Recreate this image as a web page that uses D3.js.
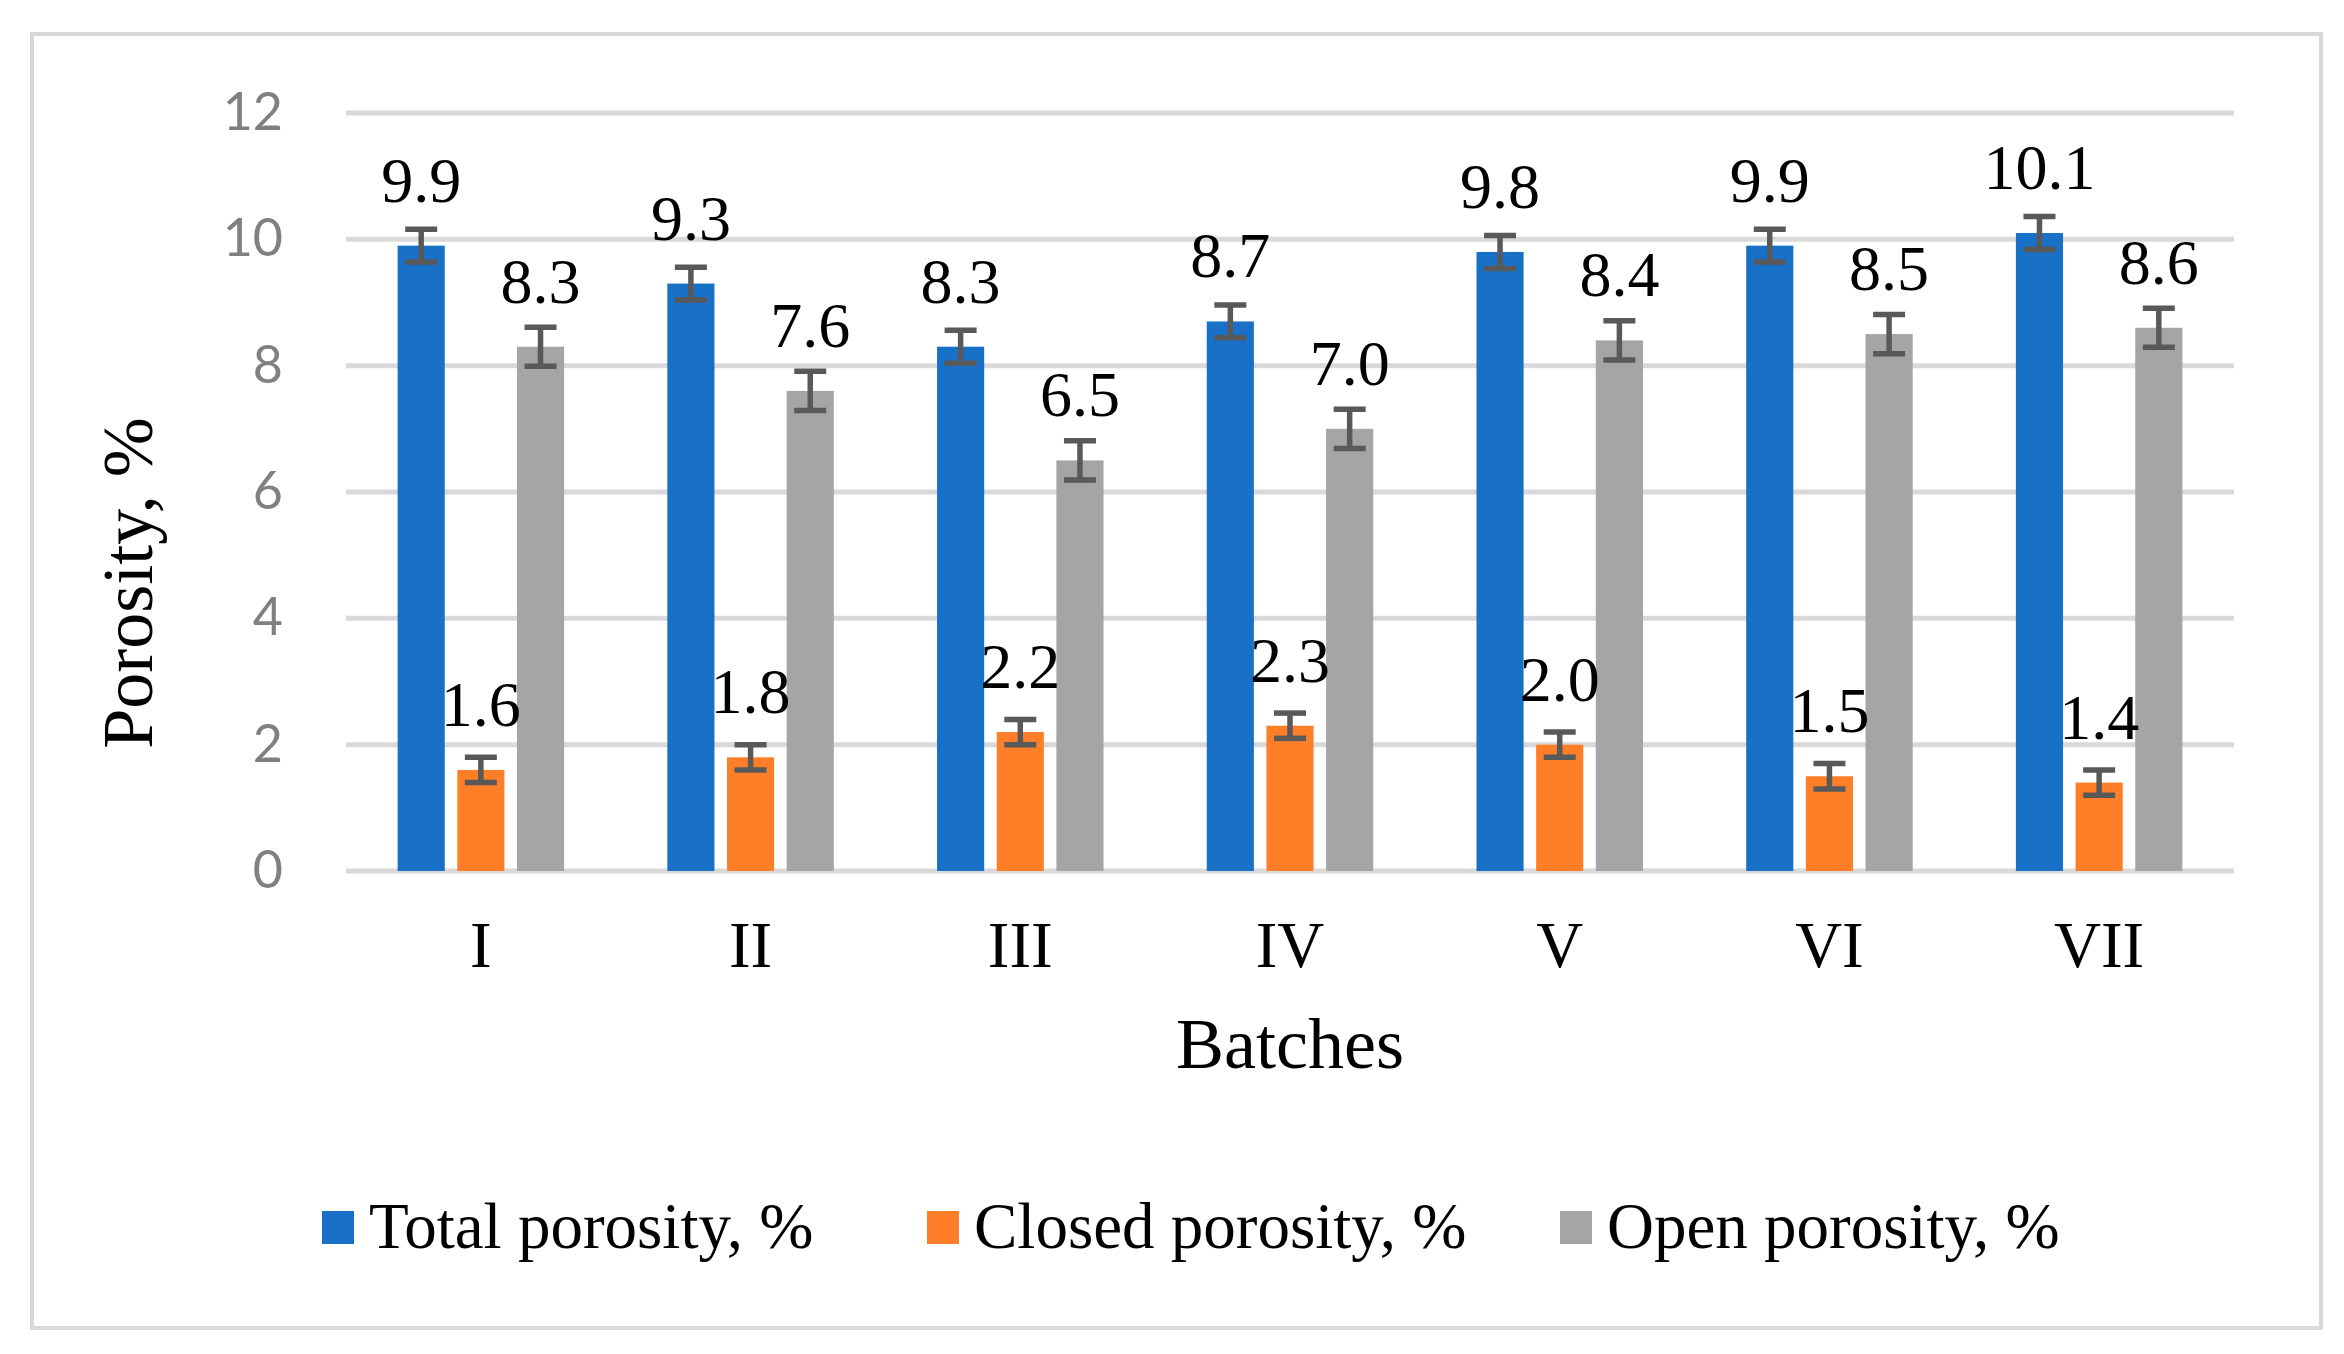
<!DOCTYPE html>
<html>
<head>
<meta charset="utf-8">
<script src="https://cdn.jsdelivr.net/npm/d3@7"></script>
<style>
  body { margin: 0; background: #fff; }
  svg { display: block; }
</style>
</head>
<body>
<div id="chart"></div>
<script>
// Data
const batches = ["I", "II", "III", "IV", "V", "VI", "VII"];
const seriesNames = ["Total porosity, %", "Closed porosity, %", "Open porosity, %"];
const totalPorosity = [9.9, 9.3, 8.3, 8.7, 9.8, 9.9, 10.1];
const closedPorosity = [1.6, 1.8, 2.2, 2.3, 2.0, 1.5, 1.4];
const openPorosity = [8.3, 7.6, 6.5, 7.0, 8.4, 8.5, 8.6];
const seriesErrors = [0.26, 0.20, 0.31];
const yTicks = [0, 2, 4, 6, 8, 10, 12];

const colors = ["#1871c6", "#fe7f27", "#a5a5a5"];
const seriesValues = [totalPorosity, closedPorosity, openPorosity];

const svgWidth = 2344, svgHeight = 1354;
const plot = { left: 346, right: 2234, top: 113, bottom: 871 };

const svg = d3.select("#chart")
    .append("svg")
    .attr("width", svgWidth)
    .attr("height", svgHeight);

// Outer chart border
svg.append("rect")
    .attr("x", 32).attr("y", 34)
    .attr("width", 2289).attr("height", 1294)
    .attr("fill", "#fff")
    .attr("stroke", "#d9d9d9")
    .attr("stroke-width", 4);

// Scales
const x = d3.scaleBand()
    .domain(batches)
    .range([plot.left, plot.right]);

const xInner = d3.scaleBand()
    .domain(d3.range(seriesNames.length))
    .range([0, x.bandwidth()])
    .paddingInner(0.21)
    .paddingOuter(0.865);

const y = d3.scaleLinear()
    .domain([0, 12])
    .range([plot.bottom, plot.top]);

// Gridlines
svg.append("g")
    .selectAll("line")
    .data(yTicks)
    .enter().append("line")
    .attr("x1", plot.left)
    .attr("x2", plot.right)
    .attr("y1", d => y(d))
    .attr("y2", d => y(d))
    .attr("stroke", "#d9d9d9")
    .attr("stroke-width", 5);

// Y axis (labels only)
const yAxis = svg.append("g")
    .attr("transform", `translate(${plot.left}, 0)`)
    .call(d3.axisLeft(y).tickValues(yTicks).tickSize(0).tickPadding(63));
yAxis.select(".domain").remove();
yAxis.selectAll("text")
    .attr("font-family", "Lato, 'Open Sans', sans-serif")
    .attr("font-size", 52)
    .attr("fill", "#808080");

// X axis (labels only)
const xAxis = svg.append("g")
    .attr("transform", `translate(0, ${plot.bottom})`)
    .call(d3.axisBottom(x).tickSize(0).tickPadding(0));
xAxis.select(".domain").remove();
xAxis.selectAll("text")
    .attr("font-family", "'Liberation Serif', 'Times New Roman', serif")
    .attr("font-size", 65)
    .attr("fill", "#000")
    .attr("dy", null)
    .attr("y", 96);

// Flatten data
const bars = [];
seriesValues.forEach((vals, s) => {
    vals.forEach((v, i) => {
        bars.push({ batch: batches[i], series: s, value: v, err: seriesErrors[s] });
    });
});

const barG = svg.append("g");

barG.selectAll("rect")
    .data(bars)
    .enter().append("rect")
    .attr("x", d => x(d.batch) + xInner(d.series))
    .attr("y", d => y(d.value))
    .attr("width", xInner.bandwidth())
    .attr("height", d => y(0) - y(d.value))
    .attr("fill", d => colors[d.series]);

// Error bars
const errG = svg.append("g")
    .attr("stroke", "#595959")
    .attr("stroke-width", 5.5);

const cx = d => x(d.batch) + xInner(d.series) + xInner.bandwidth() / 2;
const capHalf = 16;

errG.selectAll("line.stem")
    .data(bars)
    .enter().append("line")
    .attr("class", "stem")
    .attr("x1", cx).attr("x2", cx)
    .attr("y1", d => y(d.value + d.err))
    .attr("y2", d => y(d.value - d.err));

errG.selectAll("line.capTop")
    .data(bars)
    .enter().append("line")
    .attr("class", "capTop")
    .attr("x1", d => cx(d) - capHalf).attr("x2", d => cx(d) + capHalf)
    .attr("y1", d => y(d.value + d.err))
    .attr("y2", d => y(d.value + d.err));

errG.selectAll("line.capBottom")
    .data(bars)
    .enter().append("line")
    .attr("class", "capBottom")
    .attr("x1", d => cx(d) - capHalf).attr("x2", d => cx(d) + capHalf)
    .attr("y1", d => y(d.value - d.err))
    .attr("y2", d => y(d.value - d.err));

// Data labels
svg.append("g")
    .selectAll("text")
    .data(bars)
    .enter().append("text")
    .attr("x", cx)
    .attr("y", d => y(d.value) - 44)
    .attr("text-anchor", "middle")
    .attr("font-family", "'Liberation Serif', 'Times New Roman', serif")
    .attr("font-size", 64)
    .attr("fill", "#000")
    .text(d => d.value.toFixed(1));

// Axis titles
svg.append("text")
    .attr("x", (plot.left + plot.right) / 2)
    .attr("y", 1068)
    .attr("text-anchor", "middle")
    .attr("font-family", "'Liberation Serif', 'Times New Roman', serif")
    .attr("font-size", 72)
    .text("Batches");

svg.append("text")
    .attr("transform", "translate(152, 583) rotate(-90)")
    .attr("text-anchor", "middle")
    .attr("font-family", "'Liberation Serif', 'Times New Roman', serif")
    .attr("font-size", 72)
    .text("Porosity, %");

// Legend (entry start positions taken from the layout)
const legendX = [322, 927, 1560];
const legend = svg.append("g")
    .attr("font-family", "'Liberation Serif', 'Times New Roman', serif")
    .attr("font-size", 65)
    .selectAll("g")
    .data(seriesNames)
    .enter().append("g")
    .attr("transform", (d, i) => `translate(${legendX[i]}, 1211)`);

legend.append("rect")
    .attr("width", 32)
    .attr("height", 33)
    .attr("fill", (d, i) => colors[i]);

legend.append("text")
    .attr("x", 47)
    .attr("y", 37)
    .text(d => d);
</script>
</body>
</html>
